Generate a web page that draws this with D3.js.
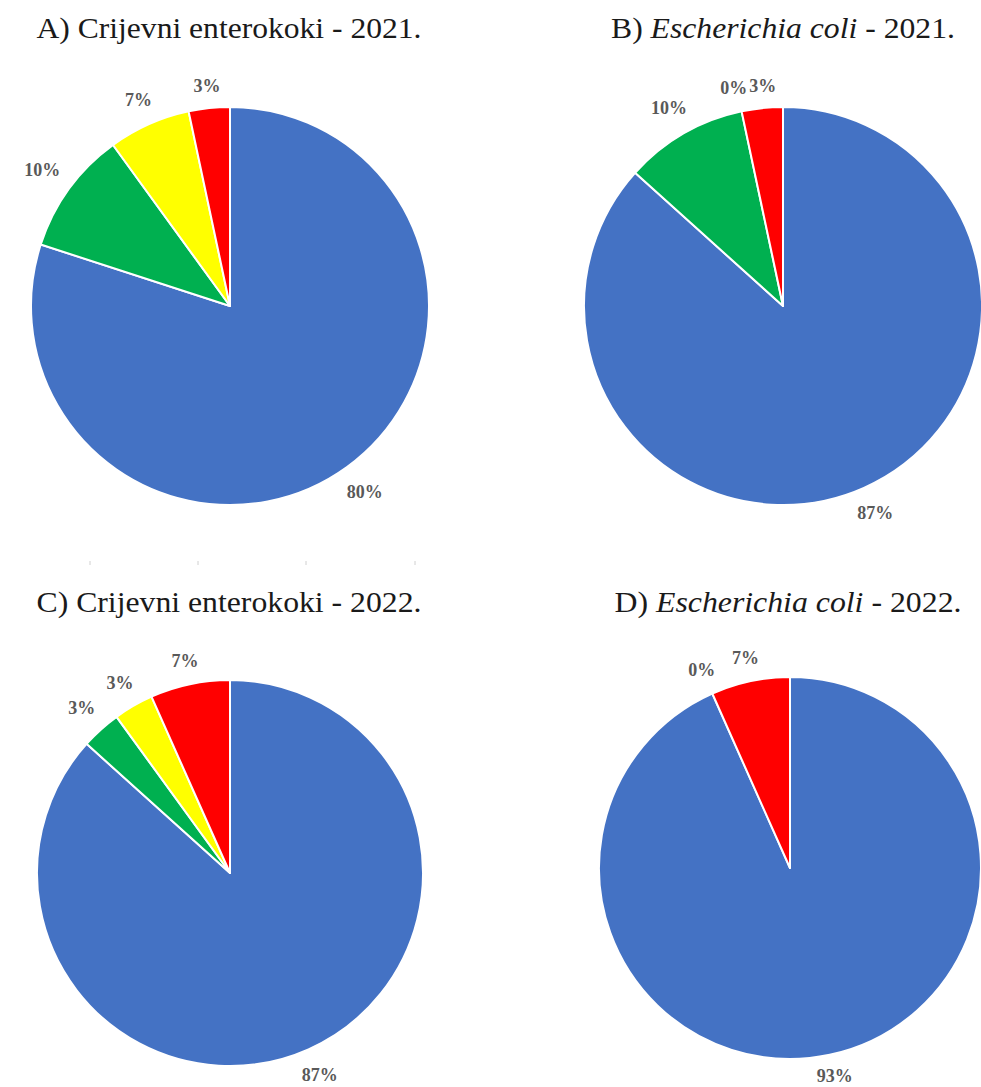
<!DOCTYPE html>
<html>
<head>
<meta charset="utf-8">
<script src="https://cdn.jsdelivr.net/npm/d3@7"></script>
<style>
  html, body { margin: 0; padding: 0; background: #fff; }
  svg { display: block; }
</style>
</head>
<body>
<svg id="chart" width="981" height="1087"></svg>
<script>
// Categories (slice order, clockwise from 12 o'clock)
const categories = ["Izvrsna", "Dobra", "Zadovoljavajuća", "Nezadovoljavajuća"];
const colors = ["#4472C4", "#00B050", "#FFFF00", "#FF0000"];

// Series values (number of samples) per panel
const valuesA = [24, 3, 2, 1];   // 80%, 10%, 7%, 3%
const valuesB = [26, 3, 0, 1];   // 87%, 10%, 0%, 3%
const valuesC = [26, 1, 1, 2];   // 87%, 3%, 3%, 7%
const valuesD = [28, 0, 0, 2];   // 93%, 0%, 0%, 7%

// Panel titles: [prefix, organism, suffix]
const titlesA = ["A) ", "Crijevni enterokoki", " - 2021."];
const titlesB = ["B) ", "Escherichia coli", " - 2021."];
const titlesC = ["C) ", "Crijevni enterokoki", " - 2022."];
const titlesD = ["D) ", "Escherichia coli", " - 2022."];

const W = 981, H = 1087;
const panels = [
  { values: valuesA, title: titlesA, italic: false, cx: 230, cy: 306, r: 199, ty: 38,  tx: 229, tw: 385 },
  { values: valuesB, title: titlesB, italic: true,  cx: 783, cy: 306, r: 199, ty: 38,  tx: 783, tw: 344 },
  { values: valuesC, title: titlesC, italic: false, cx: 230, cy: 873, r: 193, ty: 612, tx: 229, tw: 385 },
  { values: valuesD, title: titlesD, italic: true,  cx: 790, cy: 868, r: 191, ty: 612, tx: 788, tw: 347 }
];

const serif = "'Liberation Serif', Tinos, 'Times New Roman', Times, 'DejaVu Serif', serif";
const svg = d3.select("#chart");

// faint separator ticks between the rows
const tickXs = [90, 198, 306, 415];
svg.selectAll("line.sep").data(tickXs).join("line")
  .attr("class", "sep")
  .attr("x1", d => d).attr("x2", d => d)
  .attr("y1", 561).attr("y2", 565)
  .attr("stroke", "#d0d0d0").attr("stroke-width", 1);

const pie = d3.pie().sort(null).value(d => d).startAngle(0).endAngle(2 * Math.PI);
const pctFmt = v => Math.round(v) + "%";

panels.forEach(p => {
  // title
  const t = svg.append("text")
    .attr("x", p.tx).attr("y", p.ty)
    .attr("text-anchor", "middle")
    .attr("font-family", serif)
    .attr("font-size", 29)
    .attr("fill", "#1a1a1a")
    .attr("textLength", p.tw)
    .attr("lengthAdjust", "spacingAndGlyphs");
  t.append("tspan").text(p.title[0]);
  t.append("tspan").attr("font-style", p.italic ? "italic" : "normal").text(p.title[1]);
  t.append("tspan").text(p.title[2]);

  const total = d3.sum(p.values);
  const arcs = pie(p.values);
  const arc = d3.arc().innerRadius(0).outerRadius(p.r);

  const g = svg.append("g").attr("transform", `translate(${p.cx},${p.cy})`);
  g.selectAll("path").data(arcs.filter(d => d.value > 0)).join("path")
    .attr("d", arc)
    .attr("fill", d => colors[d.index])
    .attr("stroke", "#fff")
    .attr("stroke-width", 2)
    .attr("stroke-linejoin", "round");

  // labels (outside end)
  const seen = [];
  const placed = [];
  arcs.forEach(d => {
    const mid = (d.startAngle + d.endAngle) / 2;
    const key = d.value === 0 ? mid.toFixed(4) : null;
    if (key && seen.includes(key)) return;
    if (key) seen.push(key);
    const txt = pctFmt(d.value / total * 100);
    const lab = g.append("text")
      .attr("text-anchor", "middle")
      .attr("dominant-baseline", "central")
      .attr("font-family", serif)
      .attr("font-weight", "bold")
      .attr("font-size", 18)
      .attr("fill", "#595959")
      .text(txt);
    const w = lab.node().getComputedTextLength();
    const h = 12;
    const sx = Math.sin(mid), sy = -Math.cos(mid);
    const dist = p.r + 15 + Math.abs(sx) * w / 2 + Math.abs(sy) * h / 2;
    let x = sx * dist, y = sy * dist;
    // keep inside the picture
    y = Math.min(y, H - p.cy - 11);
    // push apart from a neighbouring label if they collide
    placed.forEach(o => {
      const overlapX = (w + o.w) / 2 + 2 - Math.abs(x - o.x);
      if (overlapX > 0 && Math.abs(y - o.y) < h + 4) {
        const sgn = x >= o.x ? 1 : -1;
        o.x -= sgn * overlapX / 2; o.el.attr("x", o.x);
        x += sgn * overlapX / 2;
      }
    });
    lab.attr("x", x).attr("y", y);
    placed.push({ x, y, w, el: lab });
  });
});
</script>
</body>
</html>
